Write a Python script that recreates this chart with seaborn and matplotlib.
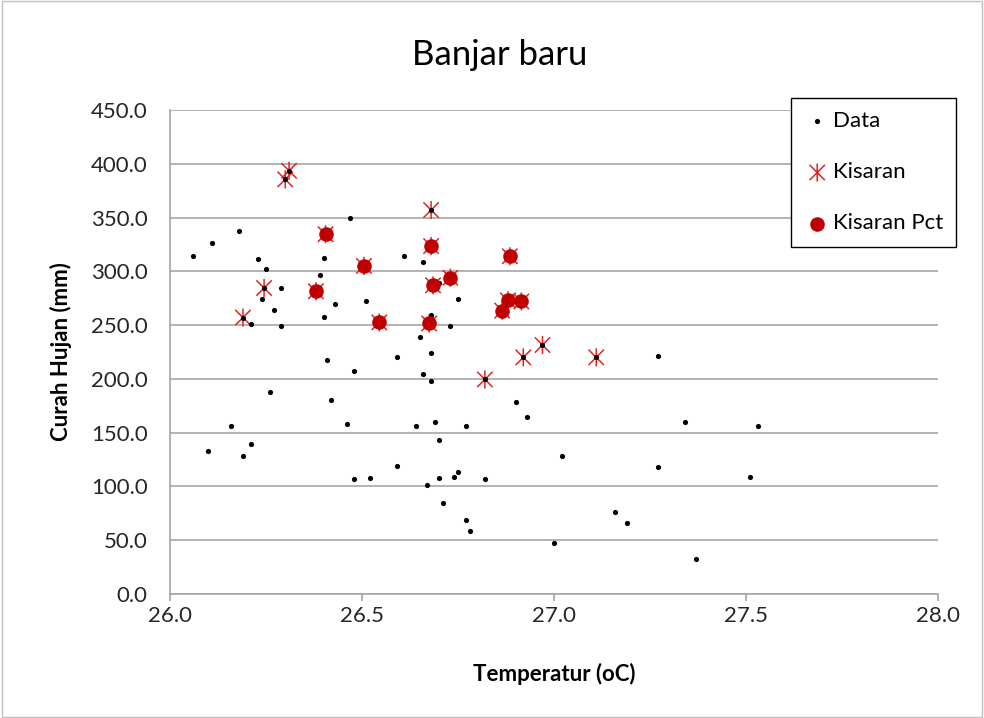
import numpy as np
import pandas as pd
import seaborn as sns
import matplotlib.pyplot as plt
from matplotlib.path import Path
from matplotlib.patches import Rectangle
from matplotlib.ticker import FormatStrFormatter, MultipleLocator

# points that are only in "Data"
other_x = [26.47, 26.18, 26.11, 26.06, 26.23, 26.40, 26.25, 26.39, 26.51, 26.29,
           26.24, 26.43, 26.27, 26.40, 26.21, 26.29, 26.41, 26.48, 26.26, 26.42,
           26.61, 26.66, 26.70, 26.75, 26.68, 26.73, 26.65, 26.59, 26.68, 26.66,
           26.68, 27.27, 26.46, 26.16, 26.21, 26.10, 26.19, 26.48, 26.90, 26.93,
           26.64, 26.69, 26.77, 26.70, 27.02, 26.59, 26.75, 26.74, 26.52, 26.70,
           26.82, 26.67, 26.71, 26.77, 26.78, 27.00, 27.34, 27.53, 27.27, 27.51,
           27.16, 27.19, 27.37]
other_y = [350.0, 337.5, 326.5, 314.0, 311.5, 312.5, 302.0, 296.5, 272.5, 284.5,
           274.5, 269.5, 264.5, 257.5, 251.0, 249.0, 217.5, 207.0, 188.0, 180.0,
           314.0, 309.0, 289.5, 274.5, 259.5, 249.0, 239.0, 220.0, 224.0, 204.5,
           198.0, 221.5, 158.5, 156.0, 139.0, 132.5, 128.0, 106.5, 178.5, 164.5,
           156.0, 159.5, 156.0, 143.5, 128.0, 119.0, 113.0, 109.0, 108.0, 108.0,
           106.5, 101.5, 84.5, 68.5, 58.5, 47.5, 159.5, 156.0, 118.0, 109.0,
           76.0, 66.0, 32.5]

# Kisaran points
kisaran_x = [26.31, 26.30, 26.245, 26.19, 26.68, 26.97, 26.92, 26.82, 27.11,
             26.405, 26.505, 26.38, 26.68, 26.885, 26.73, 26.685, 26.88, 26.915,
             26.865, 26.545, 26.675]
kisaran_y = [393.5, 385.5, 284.5, 257.0, 357.0, 231.5, 220.0, 199.5, 220.0,
             334.5, 305.0, 281.5, 323.5, 314.0, 294.0, 287.0, 273.0, 272.0,
             263.5, 252.5, 251.5]

# Kisaran Pct points
pct_x = kisaran_x[9:]
pct_y = kisaran_y[9:]

data_x = other_x + kisaran_x
data_y = other_y + kisaran_y

x_ticks = [26.0, 26.5, 27.0, 27.5, 28.0]

plt.rcParams['font.family'] = ['Lato', 'DejaVu Sans']

fig = plt.figure(figsize=(9.84, 7.18), dpi=100)
ax = fig.add_axes([170 / 984, 1 - 594 / 718, 768 / 984, 484 / 718])

# asterisk marker: vertical bar + X
star = Path([(0, -1), (0, 1), (-0.85, -0.85), (0.85, 0.85), (-0.85, 0.85), (0.85, -0.85)],
            [Path.MOVETO, Path.LINETO, Path.MOVETO, Path.LINETO, Path.MOVETO, Path.LINETO])

sns.scatterplot(x=data_x, y=data_y, ax=ax, color='black', s=14, linewidth=0,
                label='Data', zorder=4)
sns.scatterplot(x=kisaran_x, y=kisaran_y, ax=ax, marker=star, facecolor='none',
                edgecolor='#e02424', s=170, linewidth=1.1, label='Kisaran', zorder=3)
sns.scatterplot(x=pct_x, y=pct_y, ax=ax, color='#c00000', s=110, linewidth=0,
                label='Kisaran Pct', zorder=5)

ax.set_xlim(26.0, 28.0)
ax.set_ylim(0, 450)
ax.set_xticks(x_ticks)
ax.yaxis.set_major_locator(MultipleLocator(50))
ax.xaxis.set_major_formatter(FormatStrFormatter('%.1f'))
ax.yaxis.set_major_formatter(FormatStrFormatter('%.1f'))
ax.grid(axis='y', color='#a6a6a6', linewidth=1.2)
ax.set_axisbelow(True)
for s in ['top', 'right']:
    ax.spines[s].set_visible(False)
for s in ['left', 'bottom']:
    ax.spines[s].set_color('#a6a6a6')
    ax.spines[s].set_linewidth(1.2)
ax.tick_params(axis='both', labelsize=16, color='#a6a6a6', length=5, width=1.2,
               labelcolor='#262626')
ax.tick_params(axis='y', length=0, pad=16)

ax.set_xlabel('Temperatur (oC)', fontsize=16, fontweight='bold', labelpad=27)
ax.set_ylabel('Curah Hujan (mm)', fontsize=16, fontweight='bold', labelpad=14)
fig.text(500 / 984, 1 - 55 / 718, 'Banjar baru', fontsize=25, ha='center', va='center')

leg = ax.legend(loc='upper left', bbox_to_anchor=(0.808, 1.025), fontsize=16,
                frameon=True, fancybox=False, edgecolor='black', framealpha=1,
                labelspacing=1.4, handletextpad=0.1, borderpad=0.6, handlelength=1.2,
                borderaxespad=0)
leg.get_frame().set_linewidth(1.0)

fig.patches.append(Rectangle((0.002, 0.002), 0.996, 0.996, transform=fig.transFigure,
                             fill=False, edgecolor='#bfbfbf', linewidth=1))

fig.savefig('out.png', dpi=100)
